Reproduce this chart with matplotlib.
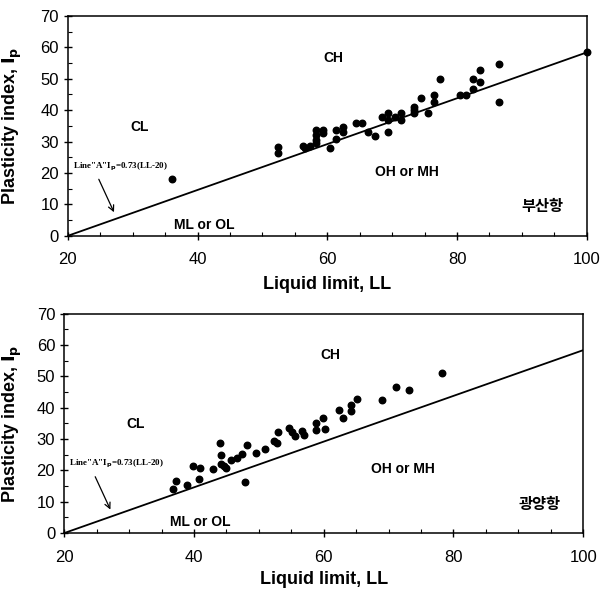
import numpy as np
import matplotlib.pyplot as plt
from matplotlib.ticker import MultipleLocator

plt.rcParams['font.family'] = ['Liberation Sans', 'Noto Sans CJK KR', 'DejaVu Sans']

# 부산항 (Busan) data: liquid limit, plasticity index
busan_ll = [36, 52.4, 52.4, 56.2, 56.5, 57.3, 58.3, 58.3, 58.3, 58.3, 59.3, 59.3,
            60.4, 61.4, 61.4, 62.4, 62.4, 64.4, 65.3, 66.3, 67.3, 68.4, 69.4, 69.4,
            69.4, 70.4, 71.4, 71.4, 73.4, 73.4, 73.4, 74.5, 75.5, 76.5, 76.5, 77.4,
            80.5, 81.4, 82.5, 82.5, 83.5, 83.5, 86.5, 86.5, 100]
busan_pi = [18, 28.4, 26.3, 28.6, 28.0, 28.6, 33.7, 32.1, 30.5, 29.5, 33.7, 32.7,
            27.9, 33.7, 30.8, 34.8, 33.0, 35.9, 35.9, 32.9, 31.9, 37.8, 39.0, 36.9,
            32.9, 37.8, 39.0, 36.9, 41.1, 40.1, 39.0, 43.8, 39.0, 44.9, 42.7, 49.8,
            44.9, 44.9, 49.8, 46.7, 52.8, 48.9, 54.7, 42.7, 58.6]

# 광양항 (Gwangyang) data
gwang_ll = [36.8, 37.3, 39, 39.9, 40.8, 41, 42.9, 44, 44.1, 44.1, 44.6, 45, 45.7,
            46.6, 47.4, 48.2, 47.9, 49.5, 51, 52.3, 52.8, 52.9, 54.6, 55.1, 55.5,
            56.6, 56.9, 58.8, 58.8, 59.9, 60.2, 62.4, 63, 64.2, 64.2, 65.1, 69,
            71.1, 73.1, 78.3]
gwang_pi = [14, 16.7, 15.5, 21.5, 17.3, 20.9, 20.5, 28.6, 24.9, 22, 21.5, 20.8, 23.3,
            24.1, 25.4, 28.1, 16.2, 25.6, 26.8, 29.5, 28.6, 32.4, 33.4, 32.3, 31.0,
            32.5, 31.4, 35.3, 32.8, 36.9, 33.3, 39.4, 36.9, 40.8, 39.1, 42.8, 42.4,
            46.5, 45.6, 51.1]

# A-line: Ip = 0.73 (LL - 20)
aline_ll = np.array([20, 100])
aline_pi = 0.73 * (aline_ll - 20)

fig = plt.figure(figsize=(6, 5.91), dpi=100)
ax1 = fig.add_axes([0.113, 0.601, 0.865, 0.372])
ax2 = fig.add_axes([0.107, 0.098, 0.865, 0.371])


def draw(ax, ll, pi, port):
    ax.plot(aline_ll, aline_pi, color='black', lw=1.3)
    ax.scatter(ll, pi, s=22, color='black', zorder=3, clip_on=False)
    ax.set_xlim(20, 100)
    ax.set_ylim(0, 70)
    ax.xaxis.set_major_locator(MultipleLocator(20))
    ax.xaxis.set_minor_locator(MultipleLocator(5))
    ax.yaxis.set_major_locator(MultipleLocator(10))
    ax.yaxis.set_minor_locator(MultipleLocator(5))
    ax.tick_params(which='major', direction='inout', length=6, width=1, labelsize=12)
    ax.tick_params(which='minor', direction='in', length=3, width=0.8)
    ax.tick_params(axis='x', pad=9)
    for sp in ax.spines.values():
        sp.set_linewidth(1.1)
    ax.set_xlabel('Liquid limit, LL', fontsize=13, fontweight='bold')
    ax.set_ylabel(r'Plasticity index, $\mathbf{I_p}$', fontsize=13, fontweight='bold')

    kw = dict(fontsize=10, fontweight='bold', ha='center', va='center')
    ax.text(31, 34.7, 'CL', **kw)
    ax.text(61, 56.7, 'CH', **kw)
    ax.text(72.2, 20.3, 'OH or MH', **kw)
    ax.text(41, 3.6, 'ML or OL', **kw)
    ax.text(93.2, 9.4, port, fontsize=11, fontweight='bold', ha='center',
            va='center', family=['Noto Sans CJK KR', 'DejaVu Sans'])
    ax.text(20.8, 22, r'Line"A"I$_\mathbf{p}$=0.73(LL-20)', fontsize=6.5,
            fontweight='bold', family='Liberation Serif', ha='left', va='center')
    ax.annotate('', xy=(27.3, 6.7), xytext=(24.6, 18.8),
                arrowprops=dict(arrowstyle='->', color='black', lw=0.9))


draw(ax1, busan_ll, busan_pi, '부산항')
draw(ax2, gwang_ll, gwang_pi, '광양항')

ax1.xaxis.set_label_coords(0.5, -0.185)
ax2.xaxis.set_label_coords(0.5, -0.175)
ax1.yaxis.set_label_coords(-0.085, 0.5)
ax2.yaxis.set_label_coords(-0.078, 0.5)

fig.savefig('out.png', dpi=100)
